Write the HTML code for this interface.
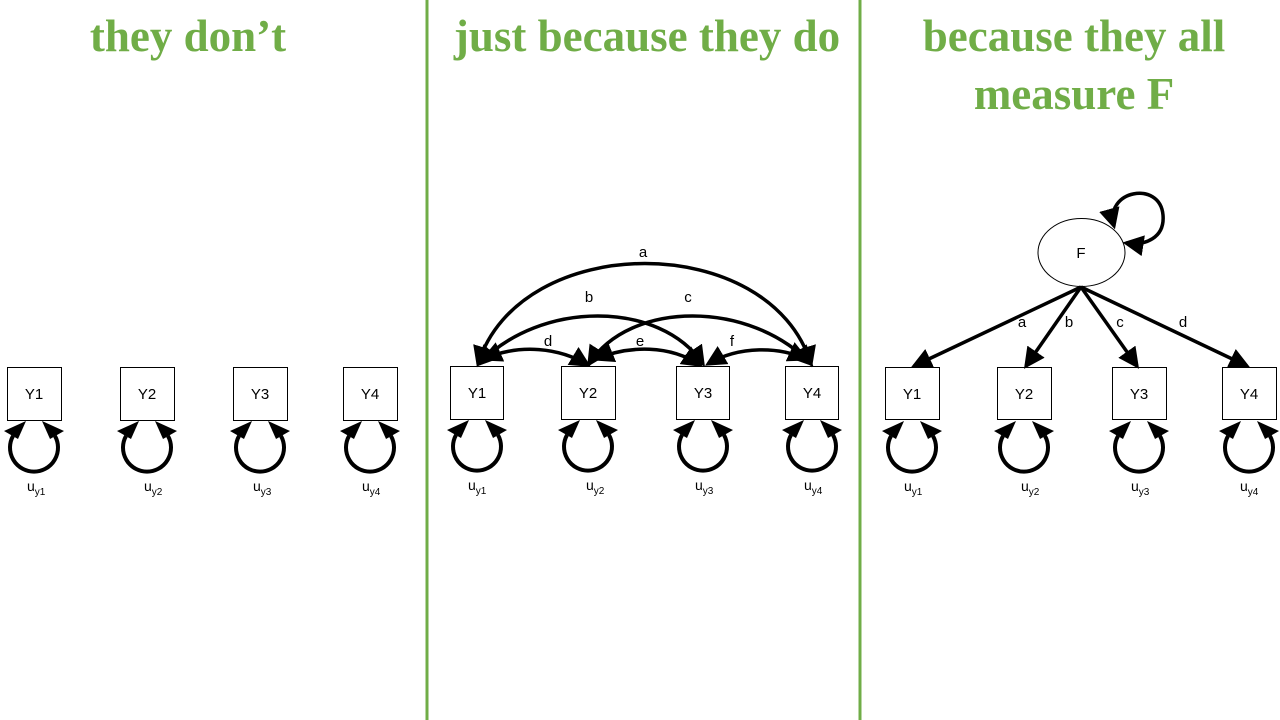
<!DOCTYPE html>
<html><head><meta charset="utf-8"><style>
html,body{margin:0;padding:0;background:#fff;width:1280px;height:720px;overflow:hidden}
svg{display:block}
.t{font-family:"Liberation Serif",serif;font-weight:bold;font-size:45px;fill:#70ad47;text-anchor:middle}
.l{font-family:"Liberation Sans","DejaVu Sans",sans-serif;font-size:15px;fill:#000;text-anchor:middle}
.u{font-family:"Liberation Sans","DejaVu Sans",sans-serif;font-size:14px;fill:#000}
.s{font-size:10px}
</style></head><body>
<svg width="1280" height="720" viewBox="0 0 1280 720" xmlns="http://www.w3.org/2000/svg">
<defs>
<marker id="a" markerWidth="6" markerHeight="6" refX="5" refY="3" orient="auto-start-reverse" markerUnits="strokeWidth" viewBox="0 0 6 6">
<path d="M0,0 L6,3 L0,6 z" fill="#000"/></marker>
<g id="lp">
<path d="M-21,436 A24,24 0 1 0 21,436" fill="none" stroke="#000" stroke-width="4"/>
<polygon points="-8,421 -30,431 -16,439" fill="#000"/>
<polygon points="8,421 30,431 16,439" fill="#000"/>
</g>
</defs>
<rect x="425.5" y="0" width="3" height="720" fill="#70ad47"/>
<rect x="858.5" y="0" width="3" height="720" fill="#70ad47"/>
<text class="t" x="188" y="51">they don’t</text>
<text class="t" x="647" y="51">just because they do</text>
<text class="t" x="1074" y="51">because they all</text>
<text class="t" x="1074" y="109">measure F</text>

<g fill="#fff" stroke="#000" stroke-width="1">
<rect x="7.5" y="367.5" width="54" height="53"/>
<rect x="120.5" y="367.5" width="54" height="53"/>
<rect x="233.5" y="367.5" width="54" height="53"/>
<rect x="343.5" y="367.5" width="54" height="53"/>
<rect x="450.5" y="366.5" width="53" height="53"/>
<rect x="561.5" y="366.5" width="54" height="53"/>
<rect x="676.5" y="366.5" width="53" height="53"/>
<rect x="785.5" y="366.5" width="53" height="53"/>
<rect x="885.5" y="367.5" width="54" height="52"/>
<rect x="997.5" y="367.5" width="54" height="52"/>
<rect x="1112.5" y="367.5" width="54" height="52"/>
<rect x="1222.5" y="367.5" width="54" height="52"/>
<ellipse cx="1081.5" cy="252.5" rx="43.5" ry="34"/>
</g>
<g class="l">
<text x="34" y="399">Y1</text><text x="147" y="399">Y2</text><text x="260" y="399">Y3</text><text x="370" y="399">Y4</text>
<text x="477" y="398">Y1</text><text x="588" y="398">Y2</text><text x="703" y="398">Y3</text><text x="812" y="398">Y4</text>
<text x="912" y="399">Y1</text><text x="1024" y="399">Y2</text><text x="1139" y="399">Y3</text><text x="1249" y="399">Y4</text>
<text x="1081" y="258">F</text>
<text x="643" y="257">a</text><text x="589" y="302">b</text><text x="688" y="302">c</text>
<text x="548" y="346">d</text><text x="640" y="346">e</text><text x="732" y="346">f</text>
<text x="1022" y="327">a</text><text x="1069" y="327">b</text><text x="1120" y="327">c</text><text x="1183" y="327">d</text>
</g>

<use href="#lp" x="34" y="0"/>
<use href="#lp" x="147" y="0"/>
<use href="#lp" x="260" y="0"/>
<use href="#lp" x="370" y="0"/>
<use href="#lp" x="477" y="-1"/>
<use href="#lp" x="588" y="-1"/>
<use href="#lp" x="703" y="-1"/>
<use href="#lp" x="812" y="-1"/>
<use href="#lp" x="912" y="0"/>
<use href="#lp" x="1024" y="0"/>
<use href="#lp" x="1139" y="0"/>
<use href="#lp" x="1249" y="0"/>

<g fill="none" stroke="#000" stroke-width="3.5" marker-start="url(#a)" marker-end="url(#a)">
<path d="M478,364 C520,230 770,230 811,364"/>
<path d="M479,364 C540,300 660,300 703,364"/>
<path d="M589,364 C630,300 750,300 811,364"/>
<path d="M484,359 C520,343 560,348 588,365"/>
<path d="M596,359 C630,345 670,345 700,365"/>
<path d="M708,364 C740,345 780,347 806,359"/>
<path d="M1114,226 C1104,190 1160,180 1163,215 C1165,238 1145,246 1126,243"/>
</g>
<g fill="none" stroke="#000" stroke-width="3.5" marker-end="url(#a)">
<path d="M1081,287 L914,366"/>
<path d="M1081,287 L1026,366"/>
<path d="M1081,287 L1137,366"/>
<path d="M1081,287 L1247,366"/>
</g>

<g class="u">
<text x="27" y="491">u<tspan class="s" dy="4">y1</tspan></text>
<text x="144" y="491">u<tspan class="s" dy="4">y2</tspan></text>
<text x="253" y="491">u<tspan class="s" dy="4">y3</tspan></text>
<text x="362" y="491">u<tspan class="s" dy="4">y4</tspan></text>
<text x="468" y="490">u<tspan class="s" dy="4">y1</tspan></text>
<text x="586" y="490">u<tspan class="s" dy="4">y2</tspan></text>
<text x="695" y="490">u<tspan class="s" dy="4">y3</tspan></text>
<text x="804" y="490">u<tspan class="s" dy="4">y4</tspan></text>
<text x="904" y="491">u<tspan class="s" dy="4">y1</tspan></text>
<text x="1021" y="491">u<tspan class="s" dy="4">y2</tspan></text>
<text x="1131" y="491">u<tspan class="s" dy="4">y3</tspan></text>
<text x="1240" y="491">u<tspan class="s" dy="4">y4</tspan></text>
</g>
</svg>
</body></html>
